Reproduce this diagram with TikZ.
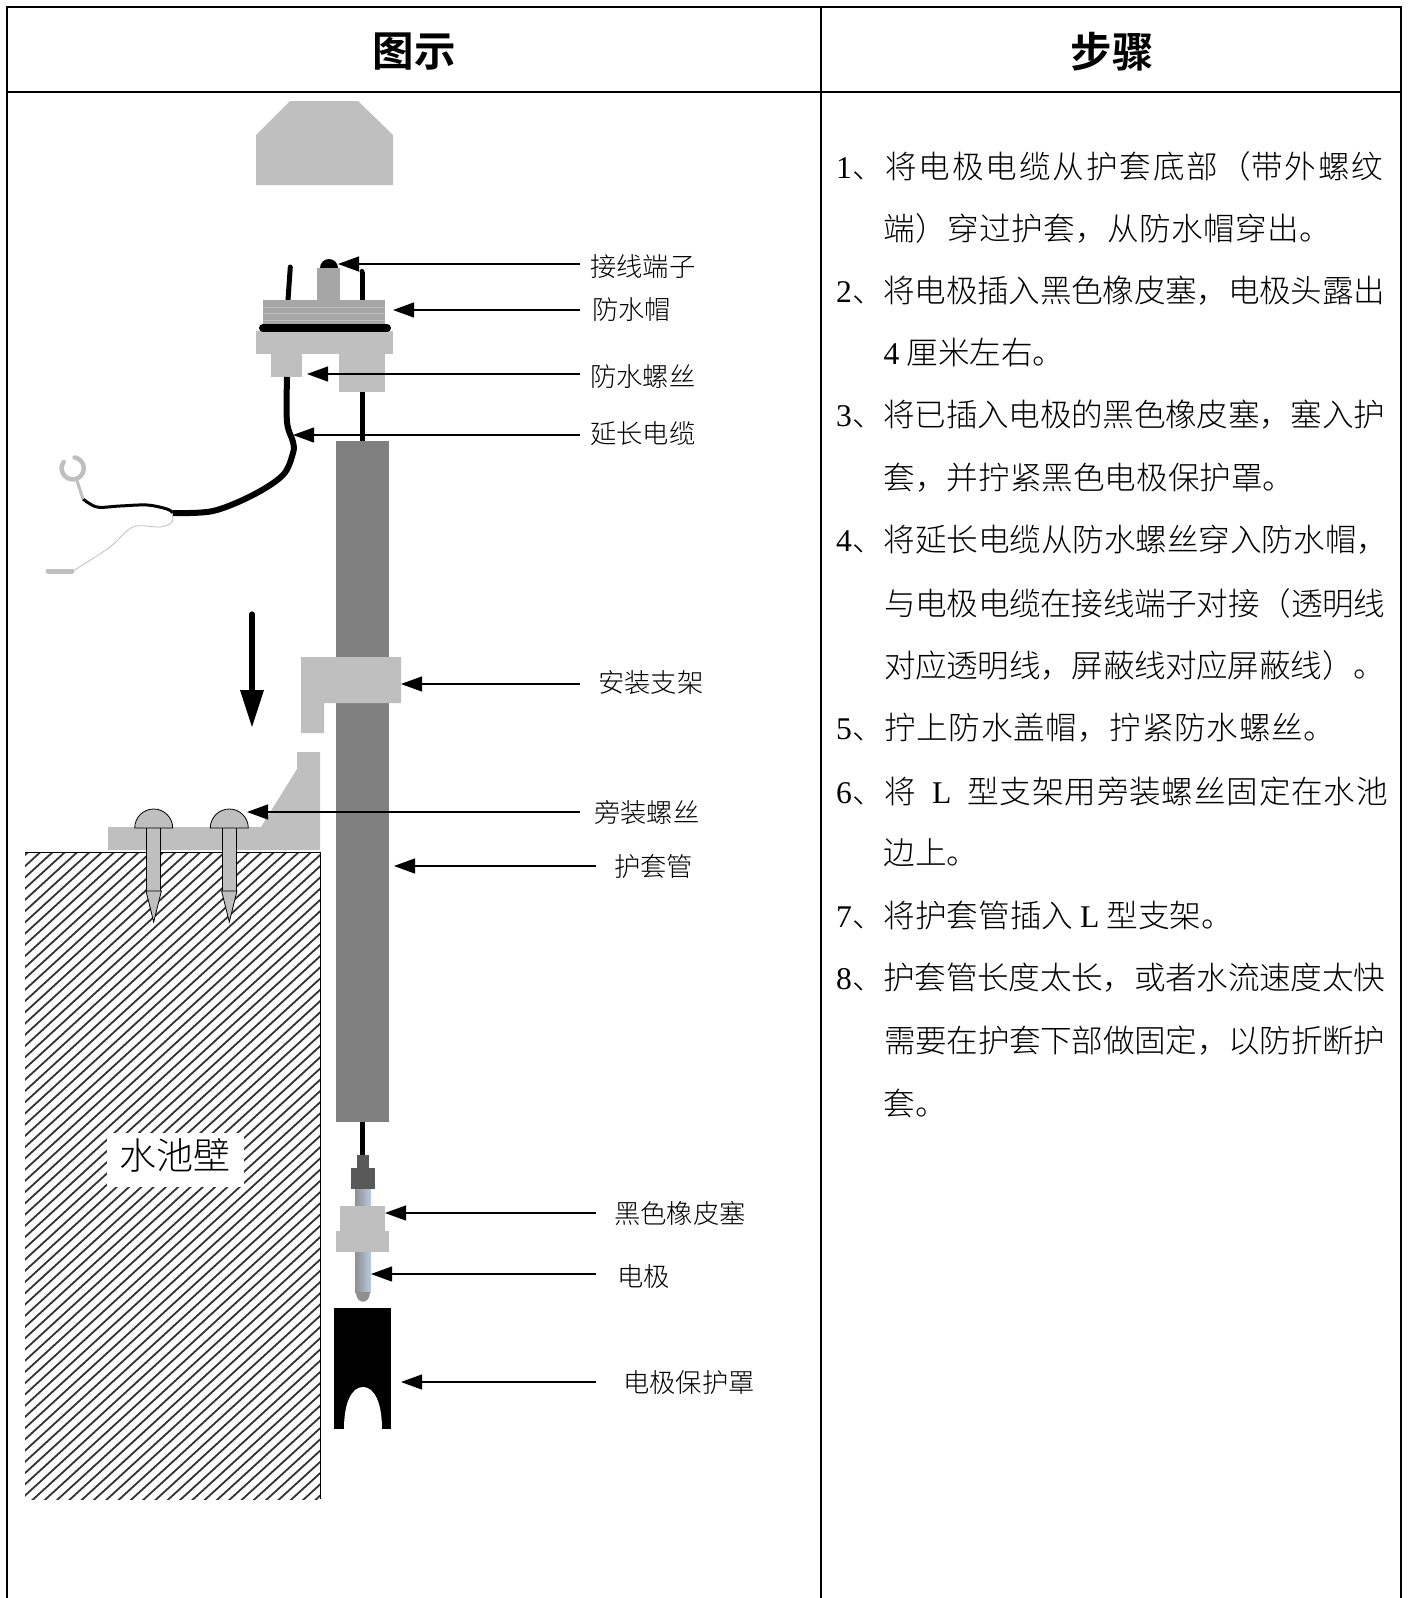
\documentclass[tikz,border=0pt]{standalone}
\usepackage{fontspec}
\usetikzlibrary{arrows.meta}
\setmainfont{Liberation Serif}
\newfontfamily\cjk[UprightFont=* Light,BoldFont=* Bold]{Noto Sans CJK SC}
\newfontfamily\lat{Liberation Serif}
\definecolor{lgray}{HTML}{BFBFBF}
\definecolor{mgray}{HTML}{A6A6A6}
\definecolor{dgray}{HTML}{808080}
\definecolor{vgray}{HTML}{595959}
\definecolor{tipgray}{HTML}{8F8F8F}
\definecolor{ltblue}{HTML}{B8CCE4}
\tikzset{
  x=1pt,y=-1pt,
  tbl/.style={line width=2pt,black},
  leader/.style={line width=1.2pt,-{Triangle[length=21pt,width=15pt]}},
  lbl/.style={inner ysep=0pt,inner xsep=10pt,anchor=west,font=\cjk\fontsize{26.3}{30}\selectfont},
  head/.style={inner sep=0pt,font=\cjk\bfseries\fontsize{41.5}{46}\selectfont},
  stepj/.style={inner sep=0pt,anchor=west,text width=#1,font=\cjk\fontsize{31.6}{36}\selectfont},
  stepn/.style={inner sep=0pt,anchor=west,font=\cjk\fontsize{31.6}{36}\selectfont},
  part/.style={fill=lgray,draw=none},
  wire/.style={line width=5pt,black,line cap=round},
  screwpart/.style={fill=lgray,draw=black,line width=0.8pt},
}
\newcommand{\jl}[1]{\parfillskip=0pt\tolerance=10000\hbadness=10000\XeTeXlinebreaklocale "zh"\XeTeXlinebreakskip=0pt plus 10pt minus 1pt\relax #1\par}
\newcommand{\screw}[1]{%
  \fill[lgray] (#1-7,828) rectangle (#1+7,891);
  \draw[screwpart] (#1-7,828) -- (#1-7,891) -- (#1+7,891) -- (#1+7,828);
  \draw[screwpart] (#1-7.7,891) -- (#1+7.7,891) -- (#1,922) -- cycle;
  \draw[screwpart] (#1-19,828) arc[start angle=180,end angle=0,x radius=19,y radius=-19] -- cycle;
}
\begin{document}
\begin{tikzpicture}
\useasboundingbox (0,0) rectangle (1409,1598);
% hatch block
\begin{scope}
  \clip (25,852) rectangle (320.5,1499);
  \foreach \k in {-60,...,32} {
    \draw[line width=1.8pt,black!80] (\k*12.3-40,1510) -- ++(800,-731);
  }
\end{scope}
\draw[line width=1pt] (25,852) -- (320.5,852) -- (320.5,1499);
\fill[white] (107,1133) rectangle (244,1187);
\node[inner sep=0pt,font=\cjk\fontsize{37}{42}\selectfont] (wall) at (175,1155) {水池壁};
% cap
\fill[part] (290,101) -- (358,101) -- (393,135) -- (393,185) -- (256,185) -- (256,135) -- cycle;
% terminal
\fill[black] (320,268) arc[start angle=180,end angle=0,x radius=9,y radius=-9] -- cycle;
\fill[mgray] (317,268) rectangle (340,300);
\draw[wire] (290.3,267) -- (288,300);
\draw[wire,line cap=butt] (362,272) -- (362,300);
\fill[black] (362,271.5) circle (2.5);
% gland
\fill[mgray] (263,300) rectangle (385,324);
\foreach \yy in {307,313.5,320} \draw[line width=1pt,lgray] (263,\yy) -- (385,\yy);
\fill[part] (256,331) rectangle (393,354);
\fill[part] (271,354) rectangle (302,377);
\fill[part] (339,354) rectangle (385,392);
\draw[line width=8pt,black,line cap=round] (263,328) -- (387,328);
% cables
\draw[line width=5pt,black] (362,392) -- (362,441);
\draw[line width=6pt,black,line join=round] plot[smooth,tension=0.55] coordinates {(287,377) (287,422) (293,442) (293,453) (283,475) (253,495) (213,511) (173,513)};
\draw[line width=3pt,black] plot[smooth,tension=0.55] coordinates {(173,513) (167,509) (147,505) (120,506) (97,507) (83,499)};
\draw[line width=0.8pt,lgray] plot[smooth,tension=0.6] coordinates {(172,513) (172,522) (160,527) (133,527) (110,547) (73,571)};
\draw[line width=5pt,lgray,line cap=round] (48,571) -- (72,571);
\draw[line width=3pt,lgray] (83,499) -- (76.7,480);
\draw[line width=4.5pt,lgray,line cap=round] plot[domain=145:440,samples=40] ({72.7+11*cos(\x)},{468.3-11*sin(\x)});
% pipe
\fill[dgray] (336,441) rectangle (389,1122);
% bracket upper
\fill[part] (301,657) -- (401,657) -- (401,703) -- (324,703) -- (324,733) -- (301,733) -- cycle;
% bracket lower
\fill[part] (297,752) -- (320,752) -- (320,850) -- (108,850) -- (108,827) -- (261,827) -- (297,769) -- cycle;
% screws
\screw{153.7}
\screw{229.3}
% big arrow
\draw[line width=5.3pt,line cap=round] (252,614) -- (252,692);
\fill[black] (240,690) -- (264,690) -- (252,727) -- cycle;
% electrode
\draw[line width=5pt,black] (362,1122) -- (362,1155);
\fill[vgray] (357,1155) rectangle (369,1168);
\fill[vgray] (351,1168) rectangle (375,1189);
\shade[left color=tipgray,right color=ltblue] (355,1189) rectangle (371,1292);
\fill[tipgray] (356,1292) .. controls (356,1305) and (370,1305) .. (370,1292) -- cycle;
\fill[part] (340,1206) rectangle (385,1231);
\fill[part] (336,1231) rectangle (389,1252);
% guard
\fill[black] (334,1308) rectangle (391,1429);
\fill[white] (344,1429) .. controls (344,1402) and (352,1387) .. (363,1387) .. controls (374,1387) and (382,1402) .. (382,1429) -- cycle;
% labels
\node[lbl] (l1) at (580,267) {接线端子};
\node[lbl] (l2) at (582,310) {防水帽};
\node[lbl] (l3) at (580,377) {防水螺丝};
\node[lbl] (l4) at (580,434) {延长电缆};
\node[lbl] (l5) at (588,683) {安装支架};
\node[lbl] (l6) at (584,812) {旁装螺丝};
\node[lbl] (l7) at (604,866) {护套管};
\node[lbl] (l8) at (604,1213) {黑色橡皮塞};
\node[lbl] (l9) at (607,1277) {电极};
\node[lbl] (l10) at (613,1383) {电极保护罩};
\coordinate (t1) at (338,264);
\coordinate (t2) at (393,310);
\coordinate (t3) at (307,374);
\coordinate (t4) at (293,435);
\coordinate (t5) at (401,684);
\coordinate (t6) at (247,812);
\coordinate (t7) at (394,866);
\coordinate (t8) at (385,1213);
\coordinate (t9) at (371,1274);
\coordinate (t10) at (401,1382);
\foreach \i/\d in {1/0,2/2,3/0,4/0,5/8,6/4,7/8,8/8,9/11,10/17} {
  \draw[leader] ([xshift=-\d pt]l\i.west |- t\i) -- (t\i);
}
% table
\draw[tbl] (7,1598) -- (7,7) -- (1401,7) -- (1401,1598);
\draw[tbl] (7,92) -- (1401,92);
\draw[tbl] (821,7) -- (821,1598);
\node[head] (h1) at (414,52) {图示};
\node[head] (h2) at (1112,52) {步骤};
% steps
\node[stepj=559pt] (s1) at (836,166) {\jl{{\lat 1}、将电极电缆从护套底部（带外螺纹}};
\node[stepj=450pt] (s2) at (883.5,228) {\jl{端）穿过护套，从防水帽穿出。}};
\node[stepj=549pt] (s3) at (836,291) {\jl{{\lat 2}、将电极插入黑色橡皮塞，电极头露出}};
\node[stepn] (s4) at (883.5,353) {{\lat 4} 厘米左右。};
\node[stepj=549pt] (s5) at (836,415) {\jl{{\lat 3}、将已插入电极的黑色橡皮塞，塞入护}};
\node[stepn] (s6) at (883.5,478) {套，并拧紧黑色电极保护罩。};
\node[stepj=552pt] (s7) at (836,540) {\jl{{\lat 4}、将延长电缆从防水螺丝穿入防水帽，}};
\node[stepj=501pt] (s8) at (884,603) {\jl{与电极电缆在接线端子对接（透明线}};
\node[stepj=501pt] (s9) at (884,665) {\jl{对应透明线，屏蔽线对应屏蔽线）。}};
\node[stepj=503pt] (s10) at (836,728) {\jl{{\lat 5}、拧上防水盖帽，拧紧防水螺丝。}};
\node[stepj=557pt] (s11) at (836,791) {\jl{{\lat 6}、将\hspace{16pt}{\lat L}\hspace{16pt}型支架用旁装螺丝固定在水池}};
\node[stepn] (s12) at (883.5,853) {边上。};
\node[stepn] (s13) at (836,915) {{\lat 7}、将护套管插入 {\lat L} 型支架。};
\node[stepj=549pt] (s14) at (836,978) {\jl{{\lat 8}、护套管长度太长，或者水流速度太快}};
\node[stepj=501pt] (s15) at (884,1041) {\jl{需要在护套下部做固定，以防折断护}};
\node[stepn] (s16) at (883.5,1103) {套。};
\end{tikzpicture}
\end{document}
